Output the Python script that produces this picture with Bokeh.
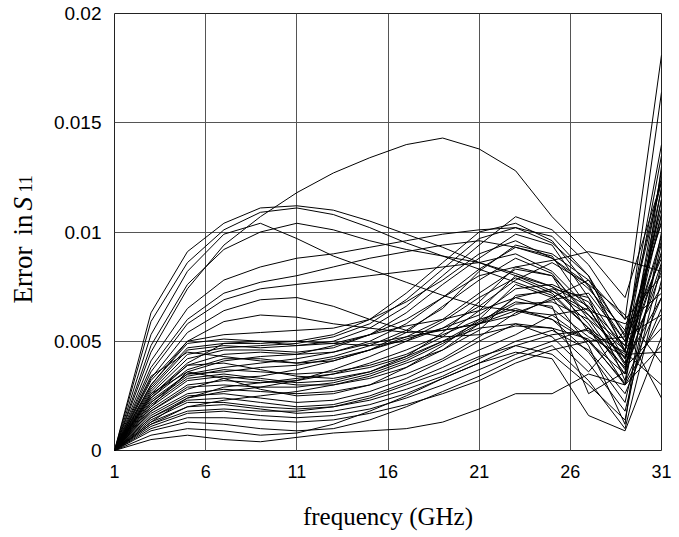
import math
from bokeh.plotting import figure
from bokeh.layouts import row
from bokeh.models import FixedTicker, NumeralTickFormatter, Range1d
from bokeh.core.properties import value
from bokeh.embed import file_html
from bokeh.resources import INLINE

# frequency sample points (GHz)
freq = [1, 3, 5, 7, 9, 11, 13, 15, 17, 19, 21, 23, 25, 27, 29, 31]

# error curves, values in units of 1e-3
c01 = [0, 4.5, 7.4, 9.4, 10.7, 11.8, 12.7, 13.4, 14.0, 14.3, 13.8, 12.8, 10.7, 9.0, 7.0, 12.3]
c02 = [0, 6.3, 9.1, 10.4, 11.1, 11.2, 11.0, 10.5, 9.9, 9.3, 8.6, 8.0, 7.3, 6.2, 4.2, 9.6]
c03 = [0, 5.9, 8.6, 10.1, 10.9, 11.1, 10.8, 10.2, 9.5, 8.9, 8.3, 7.7, 7.1, 5.6, 3.8, 8.2]
c04 = [0, 5.3, 8.2, 9.9, 10.4, 9.7, 8.9, 8.3, 7.7, 7.1, 6.6, 6.4, 6.0, 5.0, 3.1, 7.0]
c05 = [0, 4.8, 7.6, 9.2, 10.0, 10.4, 10.1, 9.6, 9.2, 8.9, 8.6, 8.1, 7.5, 6.6, 4.8, 10.8]
c06 = [0, 4.1, 6.5, 7.8, 8.4, 8.8, 9.0, 9.3, 9.6, 9.9, 10.1, 10.2, 9.5, 8.0, 5.2, 10.4]
c07 = [0, 3.8, 6.0, 7.2, 7.7, 8.0, 8.4, 8.8, 9.1, 9.4, 9.6, 9.3, 8.8, 7.6, 4.6, 11.1]
c08 = [0, 3.6, 5.8, 6.9, 7.4, 7.6, 7.8, 8.0, 8.2, 8.4, 8.6, 9.0, 8.2, 6.5, 3.9, 9.1]
c09 = [0, 3.3, 5.4, 6.4, 6.9, 7.0, 6.6, 6.0, 5.5, 5.2, 5.3, 5.7, 5.6, 5.1, 3.0, 6.1]
c10 = [0, 3.0, 5.0, 5.9, 6.2, 6.1, 5.8, 5.6, 5.4, 5.5, 5.8, 6.4, 6.2, 5.0, 3.5, 8.6]
c11 = [0, 3.2, 5.0, 5.3, 5.4, 5.5, 5.6, 6.0, 6.8, 7.8, 9.0, 9.6, 8.8, 7.4, 5.5, 12.5]
c12 = [0, 2.9, 4.7, 4.9, 4.9, 5.0, 5.3, 6.0, 7.2, 8.6, 10.0, 10.4, 9.6, 7.5, 5.0, 14.0]
c13 = [0, 2.7, 4.4, 4.7, 4.8, 4.9, 5.2, 5.8, 6.9, 8.3, 9.7, 10.2, 9.8, 8.0, 4.5, 16.4]
c14 = [0, 2.8, 4.6, 4.8, 4.7, 4.8, 5.0, 5.6, 6.6, 8.0, 9.4, 10.7, 10.1, 8.5, 6.0, 18.1]
c15 = [0, 2.6, 4.2, 4.6, 4.6, 4.5, 4.7, 5.3, 6.3, 7.6, 8.8, 9.9, 9.4, 7.0, 4.5, 13.5]
c16 = [0, 2.5, 3.9, 4.4, 4.5, 4.4, 4.5, 5.0, 5.8, 7.0, 8.3, 9.3, 8.9, 6.5, 4.0, 12.0]
c17 = [0, 2.4, 3.7, 4.2, 4.2, 4.0, 4.1, 4.6, 5.4, 6.6, 7.8, 8.8, 8.1, 6.0, 3.7, 11.5]
c18 = [0, 2.3, 3.5, 3.6, 3.8, 3.9, 4.2, 4.6, 5.1, 5.6, 6.2, 7.4, 7.6, 6.8, 4.2, 9.8]
c19 = [0, 2.2, 3.4, 3.7, 3.6, 3.5, 3.6, 3.9, 4.4, 5.2, 6.4, 8.0, 7.5, 5.8, 3.5, 12.8]
c20 = [0, 2.1, 3.3, 3.5, 3.3, 3.1, 3.2, 3.6, 4.3, 5.4, 6.8, 8.4, 8.0, 6.2, 4.8, 10.5]
c21 = [0, 2.0, 3.6, 4.1, 4.3, 4.4, 4.8, 5.3, 5.7, 6.0, 6.4, 7.0, 6.5, 5.2, 4.3, 9.0]
c22 = [0, 2.2, 3.5, 3.8, 4.0, 4.2, 4.5, 4.9, 5.2, 5.5, 5.8, 6.2, 7.0, 7.8, 6.0, 8.0]
c23 = [0, 2.0, 3.2, 3.4, 3.2, 3.0, 3.0, 3.3, 3.8, 4.6, 5.8, 7.0, 7.4, 7.0, 3.2, 11.5]
c24 = [0, 1.9, 3.0, 3.2, 3.1, 3.2, 3.5, 4.0, 4.6, 5.3, 6.0, 6.5, 6.0, 4.5, 2.2, 9.5]
c25 = [0, 1.8, 2.9, 3.0, 2.9, 2.9, 3.1, 3.5, 4.1, 4.9, 5.8, 6.7, 6.8, 6.0, 4.6, 7.5]
c26 = [0, 1.7, 2.6, 2.8, 2.7, 2.6, 2.7, 3.0, 3.5, 4.2, 5.2, 6.3, 6.9, 7.2, 5.0, 8.8]
c27 = [0, 1.6, 2.5, 2.6, 2.4, 2.2, 2.3, 2.7, 3.3, 4.1, 5.0, 5.8, 5.6, 4.0, 1.8, 8.5]
c28 = [0, 1.5, 2.3, 2.4, 2.2, 2.0, 2.1, 2.5, 3.1, 3.8, 4.6, 5.3, 6.2, 6.5, 4.0, 7.0]
c29 = [0, 1.4, 2.2, 2.2, 2.0, 1.9, 2.0, 2.3, 2.8, 3.4, 4.2, 5.0, 5.5, 4.6, 2.6, 6.5]
c30 = [0, 1.3, 2.0, 2.1, 1.9, 1.7, 1.8, 2.1, 2.6, 3.3, 4.0, 4.8, 5.3, 5.5, 3.8, 5.6]
c31 = [0, 1.2, 1.8, 1.9, 1.8, 1.8, 2.0, 2.4, 3.0, 3.6, 4.3, 4.8, 4.4, 3.0, 1.4, 10.0]
c32 = [0, 1.1, 1.7, 1.8, 1.6, 1.5, 1.6, 1.9, 2.4, 3.0, 3.7, 4.4, 5.0, 5.6, 4.4, 4.5]
c33 = [0, 1.0, 1.5, 1.5, 1.4, 1.3, 1.4, 1.7, 2.1, 2.6, 3.2, 4.0, 4.6, 5.0, 5.2, 6.2]
c34 = [0, 0.9, 1.3, 1.2, 1.0, 0.9, 1.0, 1.4, 2.0, 2.7, 3.4, 4.2, 4.8, 3.2, 1.0, 7.8]
c35 = [0, 0.7, 1.0, 0.9, 0.7, 0.8, 1.2, 1.8, 2.5, 3.3, 4.0, 4.5, 4.2, 1.6, 0.9, 5.2]
c36 = [0, 0.5, 0.7, 0.5, 0.4, 0.6, 0.8, 0.9, 1.0, 1.3, 1.9, 2.6, 2.6, 3.5, 3.0, 4.8]
c37 = [0, 3.0, 4.9, 5.1, 5.0, 4.8, 4.9, 5.3, 6.0, 7.0, 8.0, 8.4, 8.7, 9.1, 8.7, 8.2]
c38 = [0, 2.5, 4.0, 4.9, 5.0, 5.0, 4.9, 4.8, 5.0, 5.6, 6.6, 7.8, 8.6, 7.6, 6.2, 4.0]
c39 = [0, 1.8, 2.8, 3.3, 3.4, 3.7, 4.1, 4.6, 5.2, 6.0, 7.2, 8.3, 8.0, 5.4, 4.5, 3.0]
c40 = [0, 2.4, 3.9, 4.0, 3.7, 3.4, 3.3, 3.6, 4.2, 5.0, 5.6, 5.8, 5.2, 3.6, 5.5, 2.4]
c41 = [0, 1.5, 2.4, 2.7, 2.9, 3.2, 3.7, 4.3, 5.0, 5.9, 7.0, 7.9, 7.2, 5.6, 3.0, 12.0]
c42 = [0, 1.2, 2.0, 2.3, 2.5, 2.7, 3.0, 3.4, 4.0, 4.6, 5.5, 7.1, 7.3, 6.4, 5.8, 7.2]
c43 = [0, 3.4, 4.5, 4.3, 4.1, 4.0, 4.3, 4.8, 5.5, 6.5, 8.2, 9.4, 9.0, 7.8, 5.3, 12.3]
c44 = [0, 2.6, 3.6, 3.3, 2.8, 2.5, 2.6, 3.0, 3.8, 4.8, 6.0, 7.6, 7.0, 4.8, 1.2, 13.0]
c45 = [0, 1.3, 2.4, 2.9, 3.1, 3.3, 3.5, 3.8, 4.3, 5.0, 5.9, 6.8, 6.6, 2.6, 3.6, 10.8]

curves = [c01, c02, c03, c04, c05, c06, c07, c08, c09, c10, c11, c12, c13, c14, c15,
          c16, c17, c18, c19, c20, c21, c22, c23, c24, c25, c26, c27, c28, c29, c30,
          c31, c32, c33, c34, c35, c36, c37, c38, c39, c40, c41, c42, c43, c44, c45]
UNIT = 1e-3

x_ticks = [1, 6, 11, 16, 21, 26, 31]
y_ticks = [0, 0.005, 0.01, 0.015, 0.02]

# y-axis title pieces: "Error  in S11" (italic S, subscript 11)
ylab_main = ["Error", "in"]
ylab_italic = ["S"]
ylab_sub = ["11"]

LEFT_W = 50
FRAME_TOP = 13
FRAME_BOTTOM = 450

# ---- narrow left panel holding the rotated y-axis title ----
# its frame is aligned by the row layout with the main frame (rows 13..450),
# so a reversed range in pixel units maps y directly to page pixels
lab = figure(width=LEFT_W, height=537, x_range=Range1d(0, LEFT_W),
             y_range=Range1d(FRAME_BOTTOM, FRAME_TOP),
             output_backend="svg", toolbar_location=None,
             x_axis_location=None, y_axis_location=None, min_border=0)
lab.outline_line_color = None
lab.background_fill_color = "white"
lab.border_fill_color = "white"
lab.xgrid.visible = False
lab.ygrid.visible = False
serif = value("Liberation Serif")
lab.text(x=[22, 22], y=[303, 235], text=ylab_main, angle=math.pi / 2,
         text_font=serif, text_font_size="27px", text_color="black",
         text_align="left", text_baseline="alphabetic")
lab.text(x=[22], y=[210], text=ylab_italic, angle=math.pi / 2,
         text_font=serif, text_font_size="27px", text_font_style="italic",
         text_color="black", text_align="left", text_baseline="alphabetic")
lab.text(x=[25], y=[192], text=ylab_sub, angle=math.pi / 2,
         text_font=serif, text_font_size="18px", text_color="black",
         text_align="left", text_baseline="alphabetic")

# ---- main plot ----
p = figure(frame_width=547, frame_height=FRAME_BOTTOM - FRAME_TOP,
           x_range=Range1d(1, 31), y_range=Range1d(0, 0.02),
           output_backend="svg", toolbar_location=None,
           min_border_left=114 - LEFT_W, min_border_right=18,
           min_border_top=FRAME_TOP, min_border_bottom=537 - FRAME_BOTTOM)
p.background_fill_color = "white"
p.border_fill_color = "white"
p.outline_line_color = "#222222"
p.outline_line_width = 1

xs = [freq for _ in curves]
ys = [[v * UNIT for v in c] for c in curves]
p.multi_line(xs, ys, line_color="black", line_width=1)

p.xaxis.ticker = FixedTicker(ticks=x_ticks)
p.yaxis.ticker = FixedTicker(ticks=y_ticks)
p.yaxis.formatter = NumeralTickFormatter(format="0.[000]")
for ax in (p.xaxis[0], p.yaxis[0]):
    ax.axis_line_color = None
    ax.major_tick_line_color = None
    ax.minor_tick_line_color = None
    ax.major_tick_out = 0
    ax.major_tick_in = 0
    ax.major_label_text_font = "Liberation Sans"
    ax.major_label_text_color = "black"
p.xaxis.major_label_text_font_size = "18px"
p.yaxis.major_label_text_font_size = "19px"
p.xaxis.major_label_standoff = 14
p.yaxis.major_label_standoff = 13

p.xaxis.axis_label = "frequency (GHz)"
p.xaxis.axis_label_text_font = "Liberation Serif"
p.xaxis.axis_label_text_font_size = "25px"
p.xaxis.axis_label_text_font_style = "normal"
p.xaxis.axis_label_text_color = "black"
p.xaxis.axis_label_standoff = 22

p.grid.grid_line_color = "#555555"
p.grid.grid_line_width = 1

layout = row(lab, p, spacing=0)
open("out.html", "w").write(file_html(layout, INLINE))
